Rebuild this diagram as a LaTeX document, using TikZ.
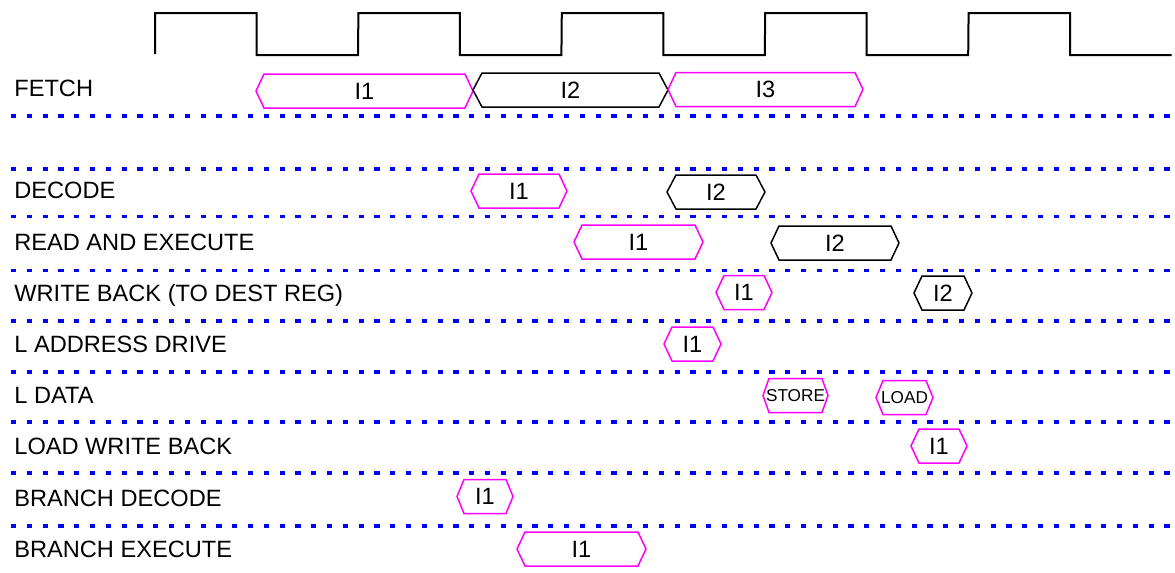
\documentclass[tikz,border=0pt]{standalone}
\usepackage{fontspec}
\setmainfont{Liberation Sans}
\usepackage{tikz}
\usetikzlibrary{calc}
\definecolor{cur}{RGB}{255,0,255}
\definecolor{sep}{RGB}{0,0,255}

\tikzset{
  sepline/.style={sep, line width=1.6pt, dash pattern=on 2.6pt off 5.3pt},
  clk/.style={black, line width=1pt},
  stagetxt/.style={font=\fontsize{11.8}{14}\selectfont, inner sep=0pt},
  smalltxt/.style={font=\fontsize{8.6}{10}\selectfont, inner sep=0pt},
}

% #1 name, #2 colour, #3 left tip, #4 right tip, #5 mid y, #6 tip depth, #7 text style, #8 label
\newcommand{\stagebox}[8]{%
  \draw[#2, line width=0.75pt] (#3,#5) -- (#3+#6,#5-17) -- (#4-#6,#5-17) -- (#4,#5)
    -- (#4-#6,#5+17) -- (#3+#6,#5+17) -- cycle;
  \node[#7] (#1) at ({(#3+#4)/2},#5) {#8};
}

\begin{document}
\begin{tikzpicture}[x=0.5pt, y=-0.5pt]
  \useasboundingbox (0,0) rectangle (1175,573);
  % clock
  \draw[clk] (155,54) \foreach \k in {0,...,4} {
    -- ({155+203.4*\k},13) -- ({256.5+203.4*\k},13)
    -- ({256.5+203.4*\k},55) -- ({358+203.4*\k},55) };
  % row separators
  \foreach \y in {116,169,216.5,270.5,321,372,422,473,526} {
    \draw[sepline] (11,\y) -- (1173,\y);
  }
  % stage names
  \foreach \y/\lbl/\nm in {97/FETCH/fetch, 198/DECODE/dec, 250.5/READ AND EXECUTE/rex,
      301/WRITE BACK (TO DEST REG)/wb, 352/L ADDRESS DRIVE/ladr, 403/L DATA/ldat,
      454/LOAD WRITE BACK/lwb, 506/BRANCH DECODE/bdec, 557/BRANCH EXECUTE/bex} {
    \node[stagetxt, anchor=base west] (lbl-\nm) at (14,\y) {\lbl};
  }
  % fetch
  \stagebox{fetch1}{cur}{256}{473}{91}{8}{stagetxt}{I1}
  \stagebox{fetch2}{black}{473}{668}{90}{9}{stagetxt}{I2}
  \stagebox{fetch3}{cur}{668}{863}{89.5}{8}{stagetxt}{I3}
  % decode
  \stagebox{dec1}{cur}{471}{567}{191}{8}{stagetxt}{I1}
  \stagebox{dec2}{black}{667}{765}{192}{9}{stagetxt}{I2}
  % read and execute
  \stagebox{rex1}{cur}{574}{703}{242}{8}{stagetxt}{I1}
  \stagebox{rex2}{black}{771}{899}{243}{8}{stagetxt}{I2}
  % write back
  \stagebox{wb1}{cur}{716}{772}{292.5}{8}{stagetxt}{I1}
  \stagebox{wb2}{black}{914}{972}{293}{8}{stagetxt}{I2}
  % load/store unit
  \stagebox{ladr1}{cur}{664}{721}{344}{8}{stagetxt}{I1}
  \stagebox{store}{cur}{763}{828}{395.5}{6}{smalltxt}{STORE}
  \stagebox{load}{cur}{876}{933}{397.5}{7}{smalltxt}{LOAD}
  \stagebox{lwb1}{cur}{911}{967}{446}{8}{stagetxt}{I1}
  % branch
  \stagebox{bdec1}{cur}{457}{513}{496.5}{7}{stagetxt}{I1}
  \stagebox{bex1}{cur}{517}{646}{549}{8}{stagetxt}{I1}
\end{tikzpicture}
\end{document}
